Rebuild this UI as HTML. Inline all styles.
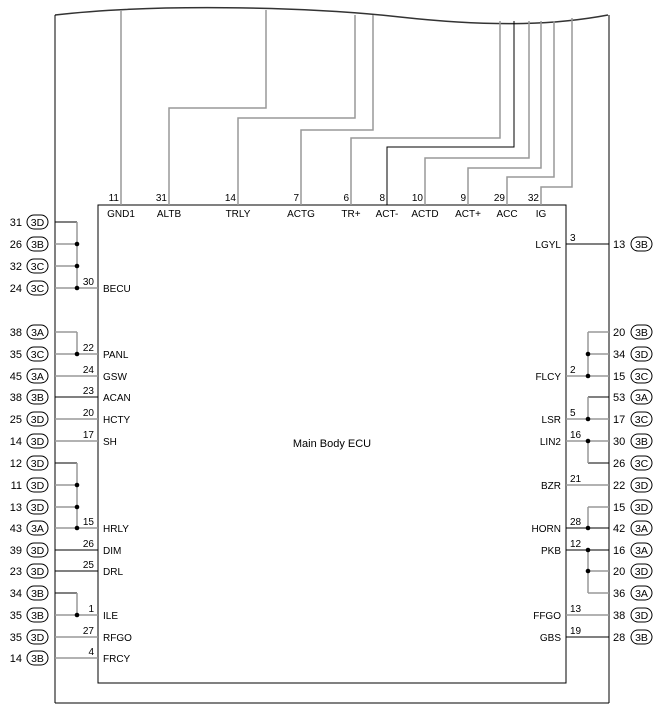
<!DOCTYPE html>
<html><head><meta charset="utf-8"><style>
body{margin:0;background:#fff}
svg{display:block;font-family:"Liberation Sans",Arial,sans-serif}
</style></head><body>
<svg id="s" width="661" height="714" viewBox="0 0 661 714">
<path d="M55,15 C150,4 300,6 400,17 S560,24 608,15" fill="none" stroke="#333" stroke-width="1.5"/>
<line x1="55" y1="15" x2="55" y2="703" stroke="#000"/>
<line x1="609" y1="15" x2="609" y2="703" stroke="#000"/>
<line x1="55" y1="703" x2="609" y2="703" stroke="#000"/>
<rect x="98" y="205" width="468" height="478" fill="none" stroke="#000"/>
<text x="332" y="447" font-size="11" text-anchor="middle">Main Body ECU</text>
<g id="g"></g>
</svg>
<script>
const NS='http://www.w3.org/2000/svg';
const g=document.getElementById('g');
const G='#999',K='#000';
function el(t,a,txt){const e=document.createElementNS(NS,t);for(const k in a)e.setAttribute(k,a[k]);if(txt!=null)e.textContent=txt;g.appendChild(e);return e;}
function ln(pts,c){return el('polyline',{points:pts.map(p=>p.join(',')).join(' '),fill:'none',stroke:c,'stroke-width':c===G?1.5:1});}
function dot(x,y){const d=el('circle',{cx:x,cy:y,r:2.3,fill:'#000'});}
// top pins: label, pin, x, bendY, topX, color
const topLabels=['GND1','ALTB','TRLY','ACTG','TR+','ACT-','ACTD','ACT+','ACC','IG'];
const topPins=['11','31','14','7','6','8','10','9','29','32'];
const topX=[121,169,238,301,351,387,425,468,507,541];
const topBend=[null,108,118,130,138,147,158,168,177,187];
const topTo=[121,266,355,373,500,514,529,541,554,572];
const topCol=[G,G,G,G,G,K,G,G,G,G];
function curveY(x){return x<150?10:x<300?10:x<400?15:x<560?21:18;}
topLabels.forEach((L,i)=>{
  const x=topX[i];let w;
  if(topBend[i]==null) w=ln([[x,205],[x,curveY(x)]],topCol[i]);
  else w=ln([[x,205],[x,topBend[i]],[topTo[i],topBend[i]],[topTo[i],curveY(topTo[i])]],topCol[i]);
  
  
  const p=el('text',{x:x-2,y:201,'font-size':10,'text-anchor':'end'},topPins[i]);
  
  
  const t=el('text',{x:x,y:217,'font-size':10,'text-anchor':'middle'},L);
  
  
});
function conn(side,y,num,code){
  const nx=side==='L'?22:613, px=side==='L'?27:631;
  const n=el('text',{x:nx,y:y+4,'font-size':11,'text-anchor':side==='L'?'end':'start'},num);
  
  
  const r=el('rect',{x:px,y:y-7,width:21,height:14,rx:7,fill:'#fff',stroke:'#000'});
  
  
  const c=el('text',{x:px+10.5,y:y+4,'font-size':10.5,'text-anchor':'middle'},code);
  
  
}
// left rows: y, num, code, ecuLabel, ecuPin, color
const leftY=[222,244,266,288,332,354,376,397,419,441,463,485,507,528,550,571,593,615,637,658];
const leftNum=['31','26','32','24','38','35','45','38','25','14','12','11','13','43','39','23','34','35','35','14'];
const leftCode=['3D','3B','3C','3C','3A','3C','3A','3B','3D','3D','3D','3D','3D','3A','3D','3D','3B','3B','3D','3B'];
const leftLab=['','','','BECU','','PANL','GSW','ACAN','HCTY','SH','','','','HRLY','DIM','DRL','','ILE','RFGO','FRCY'];
const leftPin=['','','','30','','22','24','23','20','17','','','','15','26','25','','1','27','4'];
const leftCol=[K,G,G,G,G,G,G,K,G,G,K,G,G,G,K,K,K,G,G,G];
const leftBus=[[0,3],[4,5],[10,13],[16,17]];
// right rows
const rightY=[244,332,354,376,397,419,441,463,485,507,528,550,571,593,615,637];
const rightNum=['13','20','34','15','53','17','30','26','22','15','42','16','20','36','38','28'];
const rightCode=['3B','3B','3D','3C','3A','3C','3B','3C','3D','3D','3A','3A','3D','3A','3D','3B'];
const rightLab=['LGYL','','','FLCY','','LSR','LIN2','','BZR','','HORN','PKB','','','FFGO','GBS'];
const rightPin=['3','','','2','','5','16','','21','','28','12','','','13','19'];
const rightCol=[K,G,G,G,K,G,G,K,G,G,K,K,G,G,G,K];
const rightBus=[[1,3,3],[4,5,5],[6,7,6],[9,10,10],[11,13,11]];
function side(S,Y,N,C,Lb,P,Col,Bus){
  const L=S==='L', outer=L?55:609, inner=L?98:566, bx=L?77:588;
  const inBus={};Bus.forEach(b=>{for(let i=b[0];i<=b[1];i++)inBus[i]=b;});
  Y.forEach((y,i)=>{
    conn(S,y,N[i],C[i]);
    const b=inBus[i];
    let w;
    const main=b?(b.length>2?b[2]===i:i===b[1]):true;
    if(main) w=ln([[outer,y],[inner,y]],Col[i]);
    else w=ln([[outer,y],[bx,y]],Col[i]);
    
    
    if(b && i!==b[0] && i!==b[1]) dot(bx,y);
    if(b && main) dot(bx,y);
    if(Lb[i]){
      const t=el('text',{x:L?103:561,y:y+4,'font-size':10,'text-anchor':L?'start':'end'},Lb[i]);
      
      
      const p=el('text',{x:L?94:570,y:y-3,'font-size':10,'text-anchor':L?'end':'start'},P[i]);
      
      
    }
  });
  Bus.forEach(b=>{
    const w=ln([[bx,Y[b[0]]],[bx,Y[b[1]]]],G);
    
    
  });
  g.querySelectorAll('circle').forEach(c=>g.appendChild(c));
}
side('L',leftY,leftNum,leftCode,leftLab,leftPin,leftCol,leftBus);
side('R',rightY,rightNum,rightCode,rightLab,rightPin,rightCol,rightBus);
</script>
</body></html>
